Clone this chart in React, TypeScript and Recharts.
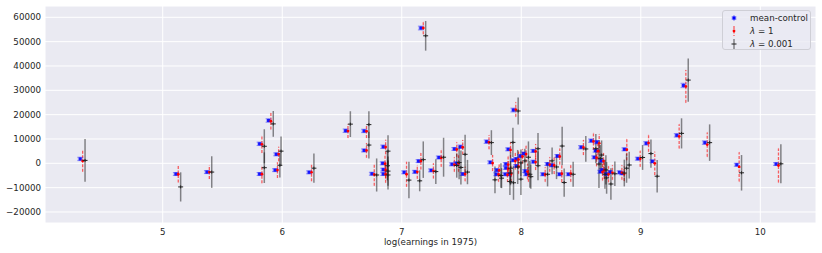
import { CartesianGrid, ErrorBar, Scatter, ScatterChart, XAxis, YAxis } from 'recharts';

// log(earnings in 1975) for each unit
const logEarnings = [
    4.31, 5.11, 5.37, 5.81, 5.81, 5.885, 5.95, 5.94, 6.225, 6.53,
    6.685, 6.685, 6.75, 6.845, 6.84, 6.845, 6.845, 7.02, 7.11, 7.14,
    7.16, 7.245, 7.31, 7.42, 7.44, 7.455, 7.49, 7.51, 7.71, 7.74,
    7.795, 7.79, 7.865, 7.87, 7.87, 7.89, 7.895, 7.93, 7.934, 7.957,
    7.957, 7.99, 8.02, 8.032, 8.04, 8.1, 8.1, 8.18, 8.218, 8.255,
    8.302, 8.319, 8.394, 8.5, 8.584, 8.632, 8.61, 8.621, 8.668, 8.66,
    8.674, 8.71, 8.743, 8.822, 8.841, 8.863, 8.975, 9.045, 9.097, 9.301,
    9.357, 9.536, 9.803, 10.132,
];

const meanControl = [
    1800, -4400, -3600, 8000, -4400, 17600, 3700, -2800, -3700, 13400,
    13300, 5300, -4300, 6800, 0, -2600, -4400, -3700, -3500, 900,
    55600, -2900, 2400, -400, 5900, 0, 6800, -4400, 8900, 400,
    -2800, -4500, -4500, -300, -1900, 5750, -4500, 1250, 21900, 1800,
    -1100, 3000, 4000, -3200, -4500, 5100, 650, -4500, -300, -800,
    3000, -4500, -4500, 6600, 9300, 8700, 2450, 5200, 1050, -3450,
    -2750, -4400, -3600, -3700, -4100, 5750, 1900, 8200, 800, 11500,
    32000, 8500, -600, -300,
];
const meanControlErr = [
    700, 600, 600, 700, 600, 700, 600, 600, 600, 700,
    700, 600, 600, 700, 600, 600, 600, 600, 600, 600,
    800, 600, 600, 600, 600, 600, 700, 600, 700, 600,
    600, 600, 600, 600, 600, 600, 600, 600, 800, 600,
    600, 600, 600, 600, 600, 600, 600, 600, 600, 600,
    600, 600, 600, 700, 700, 700, 600, 600, 600, 600,
    600, 600, 600, 600, 600, 600, 600, 700, 600, 700,
    900, 700, 600, 600,
];

const lambda1 = [
    1000, -4500, -3600, 7800, -4500, 17300, 3800, -2800, -3700, 13300,
    13200, 5300, -4600, 6700, -200, -2700, -4500, -4500, -3500, 900,
    55600, -3100, 2200, -500, 5700, 0, 6600, -4400, 8700, 100,
    -2900, -4600, -4700, -500, -2200, 5500, -4400, 1000, 22100, 1600,
    -1300, 2800, 3800, -3400, -4600, 4900, 500, -4600, -500, -900,
    2800, -4300, -4200, 6500, 9000, 8200, 2300, 5000, 900, -3600,
    -2900, -4500, -3800, -3800, -4300, 5600, 1900, 8300, 0, 11100,
    31600, 7700, -1500, -900,
];
const lambda1Err = [
    4500, 3400, 2800, 3600, 3700, 3400, 3000, 3200, 3700, 2900,
    2800, 3000, 4600, 3000, 3500, 3500, 3500, 5100, 2800, 3400,
    2600, 3100, 3600, 3000, 3000, 3500, 3000, 3000, 2900, 3300,
    2400, 3000, 3000, 3500, 3000, 3200, 3200, 3500, 3000, 3300,
    3000, 3000, 3400, 3200, 3000, 3000, 3300, 3000, 3000, 3500,
    3300, 3400, 3400, 3100, 3500, 3800, 3500, 3500, 3300, 3500,
    3500, 3300, 3000, 3000, 3000, 4300, 3300, 3500, 4800, 5000,
    6700, 5000, 6000, 7000,
];

const lambdaSmall = [
    1200, -9700, -3600, 7000, -1800, 16200, 5000, -800, -2000, 16100,
    15900, 7500, -4800, 5000, -1000, -3200, -4800, -6900, -7200, 1500,
    52400, -3400, 2500, -900, 300, -1700, 3700, -3600, 8500, -6800,
    -6100, -5000, -7500, -2000, -4000, 8600, -8000, -1500, 21500, 200,
    -6500, 1000, 2500, -4500, -5500, 6000, -1000, -4500, 1000, -1500,
    7100, -7900, -4500, 5900, 6000, 3400, -300, 2000, -2700, -4500,
    -6000, -8500, -4300, -4000, -2000, -700, 2400, 4000, -5300, 12300,
    34200, 8500, -3900, -200,
];
const lambdaSmallErr = [
    8800, 6000, 6500, 7000, 6300, 5300, 6000, 5000, 6000, 5300,
    5500, 5500, 6800, 6500, 6000, 6000, 6000, 7500, 4300, 7500,
    6100, 5100, 8000, 5000, 6800, 7000, 8000, 5000, 5100, 5500,
    4100, 5000, 5500, 6500, 5000, 6000, 7000, 7000, 5500, 5500,
    6500, 5000, 6500, 5500, 5000, 6500, 6000, 5000, 5500, 5000,
    7900, 5800, 5100, 5300, 6000, 6000, 9800, 5500, 6000, 6000,
    6500, 6500, 5000, 5500, 6000, 5500, 5100, 5800, 6700, 6200,
    8900, 7500, 7300, 8000,
];

const xTicks = [5, 6, 7, 8, 9, 10];
const yTicks = [-20000, -10000, 0, 10000, 20000, 30000, 40000, 50000, 60000];

// series are drawn side by side, nudged right
const RED_SHIFT = 0.02;
const BLACK_SHIFT = 0.04;

const blueRows = logEarnings.map((x, i) => ({ x, y: meanControl[i], err: meanControlErr[i] }));
const redRows = logEarnings.map((x, i) => ({ x: x + RED_SHIFT, y: lambda1[i], err: lambda1Err[i] }));
const blackRows = logEarnings.map((x, i) => ({ x: x + BLACK_SHIFT, y: lambdaSmall[i], err: lambdaSmallErr[i] }));

const FONT = '"DejaVu Sans", sans-serif';
const TEXT = '#262626';

const fmt = (v: number) => (v < 0 ? '\u2212' + Math.abs(v) : String(v));

const BlueMark = (p: any) => (
    <g>
        <rect x={p.cx - 2.5} y={p.cy - 2} width={5} height={4} fill="#4444ff" fillOpacity={0.35} />
        <rect x={p.cx - 1.5} y={p.cy - 1.5} width={3} height={3} fill="#0000ff" fillOpacity={0.85} />
    </g>
);

const RedMark = (p: any) => <circle cx={p.cx} cy={p.cy} r={1.4} fill="#ff0000" />;

const BlackMark = (p: any) => (
    <g stroke="#222" strokeWidth={1}>
        <line x1={p.cx - 2.5} x2={p.cx + 2.5} y1={p.cy} y2={p.cy} />
        <line x1={p.cx} x2={p.cx} y1={p.cy - 1.5} y2={p.cy + 1.5} />
    </g>
);

function LegendBox() {
    const row = { display: 'flex', alignItems: 'center', height: 12.7 } as const;
    return (
        <div
            style={{
                position: 'absolute',
                left: 722,
                top: 10,
                width: 89,
                height: 40,
                boxSizing: 'border-box',
                border: '1px solid #cfcfd6',
                borderRadius: 3,
                background: 'rgba(234,234,242,0.8)',
                fontFamily: FONT,
                fontSize: 8.7,
                color: TEXT,
                padding: '1px 0 0 0',
            }}
        >
            <div style={row}>
                <svg width={27} height={12} style={{ flex: 'none' }}>
                    <line x1={11} x2={11} y1={3} y2={9} stroke="#0000ff" strokeOpacity={0.4} strokeWidth={1.2} />
                    <rect x={8.5} y={4} width={5} height={4} fill="#4444ff" fillOpacity={0.35} />
                    <rect x={9.5} y={4.5} width={3} height={3} fill="#0000ff" />
                </svg>
                <span>mean-control</span>
            </div>
            <div style={row}>
                <svg width={27} height={12} style={{ flex: 'none' }}>
                    <line x1={11} x2={11} y1={1} y2={11} stroke="#ff0000" strokeOpacity={0.6} strokeWidth={1.3} strokeDasharray="3 1.5" />
                    <circle cx={11} cy={6} r={1.4} fill="#ff0000" />
                </svg>
                <span><i>λ</i> = 1</span>
            </div>
            <div style={row}>
                <svg width={27} height={12} style={{ flex: 'none' }}>
                    <line x1={11} x2={11} y1={1} y2={11} stroke="#000" strokeOpacity={0.45} strokeWidth={1.5} />
                    <line x1={8.5} x2={13.5} y1={6} y2={6} stroke="#222" />
                </svg>
                <span><i>λ</i> = 0.001</span>
            </div>
        </div>
    );
}

export default function App() {
    return (
        <div style={{ position: 'absolute', left: 0, top: 0, width: 822, height: 253 }}>
            <ScatterChart width={822} height={253} margin={{ top: 6, right: 6, bottom: 0, left: 0 }}>
                <CartesianGrid fill="#EAEAF2" stroke="#ffffff" strokeWidth={1} />
                <XAxis
                    type="number"
                    dataKey="x"
                    domain={[4.015, 10.466]}
                    ticks={xTicks}
                    allowDataOverflow
                    axisLine={false}
                    tickLine={false}
                    tickSize={0}
                    tickMargin={6}
                    height={30}
                    tick={{ fill: TEXT, fontSize: 8.7, fontFamily: FONT }}
                    label={{
                        value: 'log(earnings in 1975)',
                        position: 'insideBottom',
                        offset: 8,
                        fill: TEXT,
                        fontSize: 8.7,
                        fontFamily: FONT,
                    }}
                />
                <YAxis
                    type="number"
                    dataKey="y"
                    domain={[-24530, 64650]}
                    ticks={yTicks}
                    allowDataOverflow
                    axisLine={false}
                    tickLine={false}
                    tickSize={0}
                    tickMargin={4}
                    width={45}
                    tickFormatter={fmt}
                    tick={{ fill: TEXT, fontSize: 8.7, fontFamily: FONT }}
                />
                <Scatter name="mean-control" data={blueRows} shape={BlueMark} isAnimationActive={false}>
                    <ErrorBar dataKey="err" direction="y" width={3} stroke="#0000ff" strokeOpacity={0.35} strokeWidth={1} isAnimationActive={false} />
                </Scatter>
                <Scatter name="λ = 1" data={redRows} shape={RedMark} isAnimationActive={false}>
                    <ErrorBar dataKey="err" direction="y" width={0} stroke="#ff0000" strokeOpacity={0.6} strokeWidth={1.3} strokeDasharray="3 1.5" isAnimationActive={false} />
                </Scatter>
                <Scatter name="λ = 0.001" data={blackRows} shape={BlackMark} isAnimationActive={false}>
                    <ErrorBar dataKey="err" direction="y" width={0} stroke="#000000" strokeOpacity={0.45} strokeWidth={1.5} isAnimationActive={false} />
                </Scatter>
            </ScatterChart>
            <LegendBox />
        </div>
    );
}
